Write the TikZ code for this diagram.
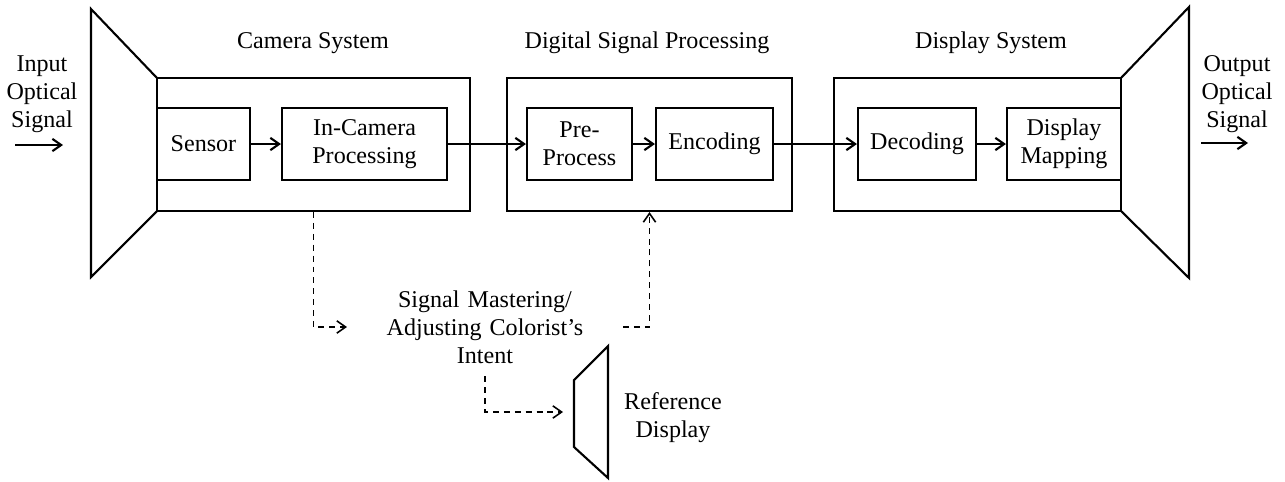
\documentclass[tikz,border=0pt]{standalone}
\usepackage{fontspec}
\setmainfont{Liberation Serif}
\usetikzlibrary{arrows.meta,positioning}
\begin{document}
\begin{tikzpicture}[x=0.02cm,y=-0.02cm,line width=1.2pt,
    font=\fontsize{13.7}{15.9}\selectfont,
    >={Straight Barb[length=5pt,width=7pt]},
    sysbox/.style={draw,inner sep=0pt,minimum height=2.66cm},
    blk/.style={draw,inner sep=0pt,align=center,minimum height=1.44cm},
    dsh/.style={line width=0.9pt,dash pattern=on 3.4pt off 2.8pt}]
  \useasboundingbox (0,0) rectangle (1285,481);

  \node[sysbox,minimum width=6.26cm] (cam)  at (313.5,144.5) {};
  \node[sysbox,minimum width=5.7cm]  (dsp)  at (649.5,144.5) {};
  \node[sysbox,minimum width=5.74cm] (disp) at (977.5,144.5) {};

  \node[blk,minimum width=1.86cm] (sensor) at (203.5,144) {Sensor};
  \node[blk,minimum width=3.3cm]  (incam)  at (364.5,144) {In-Camera\\Processing};
  \node[blk,minimum width=2.1cm]  (pre)    at (579.5,144) {Pre-\\Process};
  \node[blk,minimum width=2.34cm] (enc)    at (714.5,144) {Encoding};
  \node[blk,minimum width=2.36cm] (dec)    at (917,144)   {Decoding};
  \node[blk,minimum width=2.28cm] (map)    at (1064,144)  {Display\\Mapping};

  \node[anchor=base] (camlbl)  at (313,48) {Camera System};
  \node[anchor=base] (dsplbl)  at (647,48) {Digital Signal Processing};
  \node[anchor=base] (displbl) at (991,48) {Display System};

  \draw (157,78) -- (91,9) -- (91,277) -- (157,211);
  \draw (1121,78) -- (1189,7) -- (1189,278) -- (1121,211);

  \node[align=center] (inp)  at (42,94)   {Input\\Optical\\Signal};
  \node[align=center] (outp) at (1237,94) {Output\\Optical\\Signal};
  \coordinate (ina) at (15,145);  \coordinate (inb) at (63,145);
  \coordinate (outa) at (1201,143); \coordinate (outb) at (1248,143);
  \draw[->] (ina) -- (inb);
  \draw[->] (outa) -- (outb);

  \draw[->] (sensor) -- (incam);
  \draw[->] (incam) -- (pre);
  \draw[->] (pre) -- (enc);
  \draw[->] (enc) -- (dec);
  \draw[->] (dec) -- (map);

  \node[align=center,text width=5.48cm,inner sep=0pt] (master) at (485,327)
    {Signal Mastering/\\Adjusting Colorist's\\Intent};
  \draw[dsh,->] (cam.south) |- (master.west);
  \draw[dsh,->] (master.east) -| (dsp.south);

  \draw (574,380) -- (608,346) -- (608,478) -- (574,447) -- cycle;
  \coordinate (refin) at (563,412);
  \node[align=center] (refdisp) at (673,418) {Reference\\Display};
  \draw[dsh,->] ([yshift=-0.24cm]master.south) |- (refin);
\end{tikzpicture}
\end{document}
